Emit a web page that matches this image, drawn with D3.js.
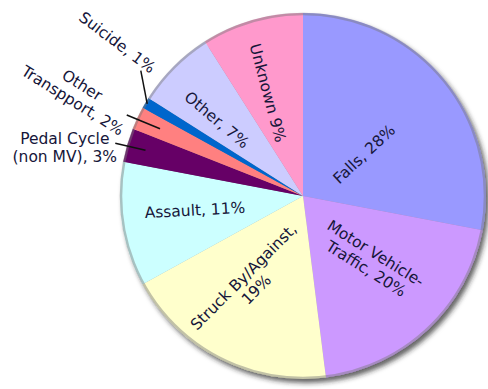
<!DOCTYPE html>
<html>
<head>
<meta charset="utf-8">
<script src="https://cdn.jsdelivr.net/npm/d3@7"></script>
<style>
  body { margin: 0; background: #fff; }
  svg { display: block; }
  .lbl { font-family: "DejaVu Sans", Verdana, sans-serif; font-size: 15.5px; fill: #16163a; }
</style>
</head>
<body>
<div id="chart"></div>
<script>
// slice data, clockwise from 12 o'clock
const categories = ["Falls", "Motor Vehicle-Traffic", "Struck By/Against", "Assault",
    "Pedal Cycle (non MV)", "Other Transpport", "Suicide", "Other", "Unknown"];
const values = [28, 20, 19, 11, 3, 2, 1, 7, 9];
const labelTexts = ["Falls, 28%", "Motor Vehicle-\nTraffic, 20%", "Struck By/Against,\n19%", "Assault, 11%",
    "Pedal Cycle\n(non MV), 3%", "Other\nTranspport, 2%", "Suicide, 1%", "Other, 7%", "Unknown 9%"];
const colors = ["#9999ff", "#cc99ff", "#ffffcc", "#ccffff", "#660066", "#ff8080", "#0066cc", "#ccccff", "#ff99cc"];

// label placement: radius from centre, angle (deg clockwise from top), rotation
const labelLayout = [
    {r: 74, a: 55.5, rot: -43},
    {r: 94, a: 133.7, rot: 32},
    {r: 102, a: 211.4, rot: -45},
    {r: 109, a: 262.6, rot: -3},
    {r: 243, a: 281.4, rot: 0},
    {r: 248, a: 294.6, rot: 32},
    {r: 241, a: 309.6, rot: 37},
    {r: 115, a: 311.5, rot: 40},
    {r: 109, a: 341.2, rot: 75}
];
// leader lines for outside labels: [slice index, inner r, outer r, outer angle]
const leaders = [
    [4, 164, 195, 285.7],
    [5, 158, 194, 294.7],
    [6, 181, 205, 307.7]
];

const width = 488, height = 389;
const cx = 303, cy = 196, radius = 183;

const svg = d3.select("#chart").append("svg")
    .attr("width", width)
    .attr("height", height);

const defs = svg.append("defs");
const shadow = defs.append("filter").attr("id", "shadow")
    .attr("x", "-10%").attr("y", "-10%").attr("width", "125%").attr("height", "125%");
shadow.append("feDropShadow")
    .attr("dx", 3).attr("dy", 4).attr("stdDeviation", 2.5)
    .attr("flood-color", "#222").attr("flood-opacity", 0.7);

const g = svg.append("g").attr("transform", `translate(${cx},${cy})`);

const pie = d3.pie().sort(null).value(d => d)(values);
const arc = d3.arc().innerRadius(0).outerRadius(radius);

const pieG = g.append("g").attr("filter", "url(#shadow)");
pieG.selectAll("path.slice")
    .data(pie)
    .enter().append("path")
    .attr("class", "slice")
    .attr("d", arc)
    .attr("fill", (d, i) => colors[i]);

// soft rim
g.append("circle")
    .attr("r", radius - 1)
    .attr("fill", "none")
    .attr("stroke", "#777")
    .attr("stroke-opacity", 0.45)
    .attr("stroke-width", 2.5);

const polar = (r, deg) => {
    const t = deg * Math.PI / 180;
    return [r * Math.sin(t), -r * Math.cos(t)];
};

// leader lines
leaders.forEach(([i, r1, r2, a2]) => {
    const mid = (pie[i].startAngle + pie[i].endAngle) / 2 * 180 / Math.PI;
    const p1 = polar(r1, mid);
    const p2 = polar(r2, a2);
    g.append("line")
        .attr("x1", p1[0]).attr("y1", p1[1])
        .attr("x2", p2[0]).attr("y2", p2[1])
        .attr("stroke", "#111")
        .attr("stroke-width", 1.5);
});

// labels
labelTexts.forEach((txt, i) => {
    const L = labelLayout[i];
    const p = polar(L.r, L.a);
    const lines = txt.split("\n");
    const lh = 18;
    const t = g.append("text")
        .attr("class", "lbl")
        .attr("text-anchor", "middle")
        .attr("transform", `translate(${p[0]},${p[1]}) rotate(${L.rot})`);
    lines.forEach((ln, k) => {
        t.append("tspan")
            .attr("x", 0)
            .attr("y", (k - (lines.length - 1) / 2) * lh)
            .attr("dy", "0.35em")
            .text(ln);
    });
});
</script>
</body>
</html>
